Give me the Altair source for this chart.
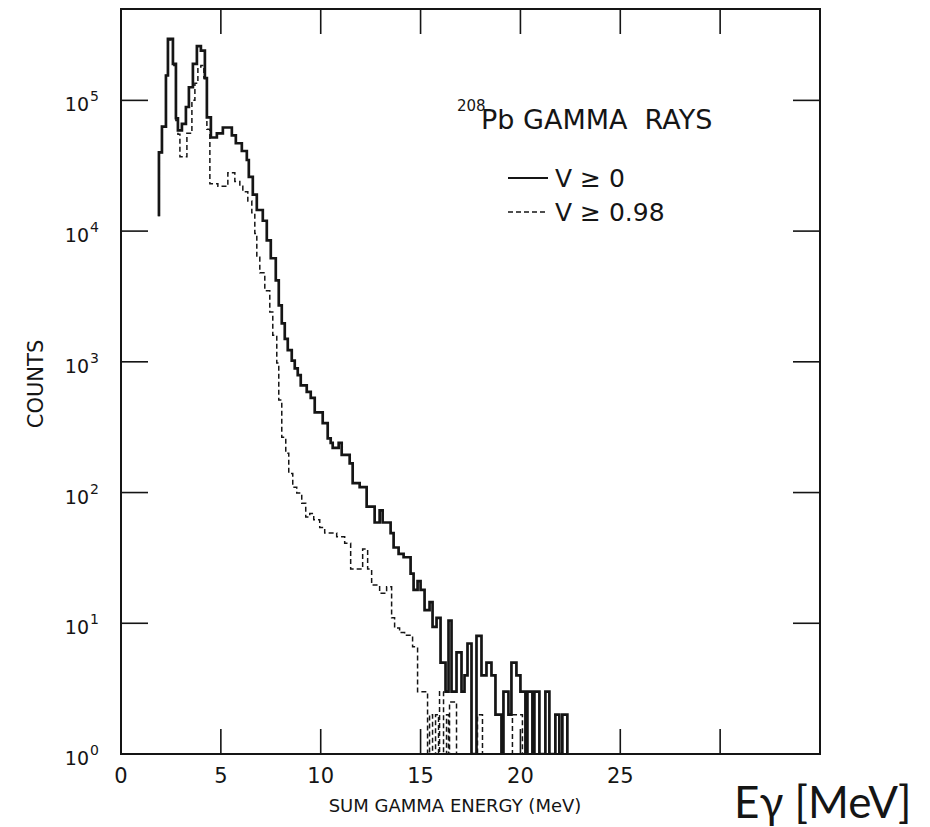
import altair as alt
import pandas as pd

# Sum gamma-ray energy spectrum, 208Pb, two veto conditions (step histograms)
# Bin start energies (MeV) and counts, V >= 0
all_energy = [1.90, 1.90, 2.05, 2.25, 2.35, 2.60, 2.75, 2.85, 3.05, 3.25, 3.40, 3.60,
              3.80, 4.00, 4.20, 4.30, 4.50, 4.80, 5.10, 5.55, 5.75, 6.05, 6.30, 6.40,
              6.60, 6.80, 7.10, 7.30, 7.50, 7.75, 7.90, 8.05, 8.20, 8.35, 8.55, 8.70,
              8.85, 9.00, 9.30, 9.50, 9.70, 10.10, 10.35, 10.50, 10.60, 10.90, 11.05,
              11.45, 11.60, 11.95, 12.30, 12.70, 12.95, 13.10, 13.50, 13.65, 13.90,
              14.15, 14.50, 14.65, 14.85, 15.00, 15.20, 15.45, 15.60, 15.80, 16.00,
              16.25, 16.40, 16.55, 16.80, 17.05, 17.20, 17.35, 17.55, 17.80, 18.05,
              18.30, 18.55, 18.75, 19.05, 19.15, 19.40, 19.55, 19.80, 20.00, 20.25,
              20.35, 20.60, 20.70, 20.95, 21.25, 21.45, 21.75, 21.95, 22.10, 22.35]
all_counts = [1.3e4, 4.0e4, 6.3e4, 1.55e5, 2.95e5, 1.9e5, 7.3e4, 5.9e4, 6.6e4, 8.9e4,
              1.26e5, 1.9e5, 2.6e5, 2.4e5, 1.48e5, 7.4e4, 5.2e4, 5.6e4, 6.2e4, 5.4e4,
              4.7e4, 4.1e4, 3.5e4, 2.6e4, 1.9e4, 1.45e4, 1.2e4, 8.5e3, 6.2e3, 4.2e3,
              2.7e3, 1.97e3, 1.5e3, 1.23e3, 1.02e3, 890, 790, 660, 590, 530, 410, 340,
              260, 240, 220, 240, 194, 167, 118, 110, 78, 59, 73, 59, 49, 38, 34, 32,
              24, 18, 21, 18, 12.6, 14.5, 9.4, 11, 5, 3, 10.5, 3, 6, 3, 4, 7, 1, 8, 4,
              5, 4, 2, 1, 3, 2, 5, 4, 3, 1, 3, 1, 3, 1, 3, 1, 2, 1, 2, 1]

# Bin start energies (MeV) and counts, V >= 0.98
veto_energy = [1.90, 1.90, 2.05, 2.25, 2.35, 2.60, 2.75, 2.85, 2.95, 3.30, 3.55, 3.70,
               3.85, 4.00, 4.15, 4.30, 4.45, 4.85, 5.35, 5.70, 5.95, 6.10, 6.35, 6.55,
               6.70, 6.80, 6.95, 7.20, 7.45, 7.60, 7.80, 7.90, 8.05, 8.25, 8.40, 8.60,
               8.80, 9.05, 9.25, 9.45, 9.65, 9.95, 10.20, 10.80, 11.20, 11.50, 12.10,
               12.35, 12.55, 12.95, 13.30, 13.55, 13.70, 13.95, 14.20, 14.60, 14.85,
               15.35, 15.45, 15.60, 15.75, 15.90, 15.95, 16.15, 16.30, 16.40, 16.45,
               16.80, 17.85, 18.10, 19.60, 20.10]
veto_counts = [1.3e4, 4.0e4, 6.3e4, 1.55e5, 2.9e5, 1.85e5, 7.0e4, 5.5e4, 3.7e4, 5.6e4,
               1.0e5, 1.35e5, 1.8e5, 1.85e5, 1.48e5, 6.0e4, 2.3e4, 2.2e4, 2.8e4, 2.4e4,
               2.2e4, 2.0e4, 1.7e4, 1.38e4, 9.6e3, 6.3e3, 4.8e3, 3.5e3, 2.4e3, 1.6e3,
               980, 510, 265, 200, 140, 110, 99, 83, 65, 69, 62, 54, 49, 46, 41, 26, 37,
               26, 19.6, 17, 19, 11, 9.2, 8.5, 8.1, 6.6, 3, 1, 2, 1, 2, 1, 3, 1, 2, 1,
               2.5, 1, 2, 1, 2, 1]

x_ticks = [0, 5, 10, 15, 20, 25, 30, 35]
x_labels = [0, 5, 10, 15, 20, 25]
y_ticks = [1, 10, 100, 1000, 10000, 100000]
y_exponents = ["0", "1", "2", "3", "4", "5"]

W, H = 699, 745
INK = "#151515"
FONT = "DejaVu Sans"

x_scale = alt.Scale(domain=[0, 35], nice=False, zero=False)
y_scale = alt.Scale(type="log", domain=[1, 5e5], nice=False)

spec_all = pd.DataFrame({"energy": all_energy, "counts": all_counts,
                         "i": range(len(all_energy))})
spec_veto = pd.DataFrame({"energy": veto_energy, "counts": veto_counts,
                          "i": range(len(veto_energy))})


def step_line(df, width, dash=None):
    kw = dict(interpolate="step-after", color=INK, strokeWidth=width, clip=True)
    if dash:
        kw["strokeDash"] = dash
    return alt.Chart(df).mark_line(**kw).encode(
        x=alt.X("energy:Q", scale=x_scale, axis=None),
        y=alt.Y("counts:Q", scale=y_scale, axis=None),
        order="i:Q",
    )


line_all = step_line(spec_all, 2.7)
line_veto = step_line(spec_veto, 1.5, [5, 3])

xt = pd.DataFrame({"e": x_ticks})
yt = pd.DataFrame({"c": y_ticks, "exp": y_exponents})
xl = pd.DataFrame({"e": x_labels, "lab": [str(v) for v in x_labels]})

TICK = 25
tick_bottom = alt.Chart(xt).mark_rule(color=INK, strokeWidth=1.6).encode(
    x=alt.X("e:Q", scale=x_scale, axis=None), y=alt.value(H), y2=alt.value(H - TICK))
tick_top = alt.Chart(xt).mark_rule(color=INK, strokeWidth=1.6).encode(
    x=alt.X("e:Q", scale=x_scale, axis=None), y=alt.value(0), y2=alt.value(TICK))
tick_left = alt.Chart(yt).mark_rule(color=INK, strokeWidth=1.6).encode(
    y=alt.Y("c:Q", scale=y_scale, axis=None), x=alt.value(0), x2=alt.value(TICK + 2))
tick_right = alt.Chart(yt).mark_rule(color=INK, strokeWidth=1.6).encode(
    y=alt.Y("c:Q", scale=y_scale, axis=None), x=alt.value(W), x2=alt.value(W - TICK - 2))

x_tick_labels = alt.Chart(xl).mark_text(
    font=FONT, fontSize=21, color=INK, align="center", baseline="alphabetic", dy=29
).encode(x=alt.X("e:Q", scale=x_scale, axis=None), y=alt.value(H), text="lab:N")

y_base = alt.Chart(yt).mark_text(
    font=FONT, fontSize=19, color=INK, align="right", baseline="alphabetic", dx=-32, dy=11
).encode(y=alt.Y("c:Q", scale=y_scale, axis=None), x=alt.value(0), text=alt.value("10"))
y_pow = alt.Chart(yt).mark_text(
    font=FONT, fontSize=14, color=INK, align="left", baseline="alphabetic", dx=-31, dy=1
).encode(y=alt.Y("c:Q", scale=y_scale, axis=None), x=alt.value(0), text="exp:N")

one = alt.Data(values=[{}])


def note(text, x, y, size, font=FONT, align="left", angle=0):
    return alt.Chart(one).mark_text(
        text=text, font=font, fontSize=size, color=INK, align=align,
        baseline="alphabetic", angle=angle
    ).encode(x=alt.value(x), y=alt.value(y))


def key_rule(x1, x2, y, dash=None, width=1.6):
    kw = dict(color=INK, strokeWidth=width)
    if dash:
        kw["strokeDash"] = dash
    return alt.Chart(one).mark_rule(**kw).encode(
        x=alt.value(x1), x2=alt.value(x2), y=alt.value(y))


annotations = [
    note("SUM GAMMA ENERGY (MeV)", 334, 803, 18, align="center"),
    note("COUNTS", -78, 375, 21, align="center", angle=270),
    note("208", 336, 102, 15),
    note("Pb GAMMA\u00a0\u00a0RAYS", 360, 120, 27),
    key_rule(387, 427, 169, width=1.8),
    note("V \u2265 0", 434, 178, 25),
    key_rule(387, 427, 203, dash=[5, 3], width=1.5),
    note("V \u2265 0.98", 434, 212, 25),
    note("E\u03b3 [MeV]", 613, 809, 44, font="Lato"),
]

chart = alt.layer(
    line_veto, line_all,
    tick_bottom, tick_top, tick_left, tick_right,
    x_tick_labels, y_base, y_pow,
    *annotations,
).properties(
    width=W, height=H,
    autosize=alt.AutoSizeParams(type="none"),
    padding={"left": 121, "top": 9, "right": 110, "bottom": 73},
    background="white",
).configure_view(stroke=INK, strokeWidth=2)

chart.save("out.html", embed_options={"renderer": "svg", "actions": False})
